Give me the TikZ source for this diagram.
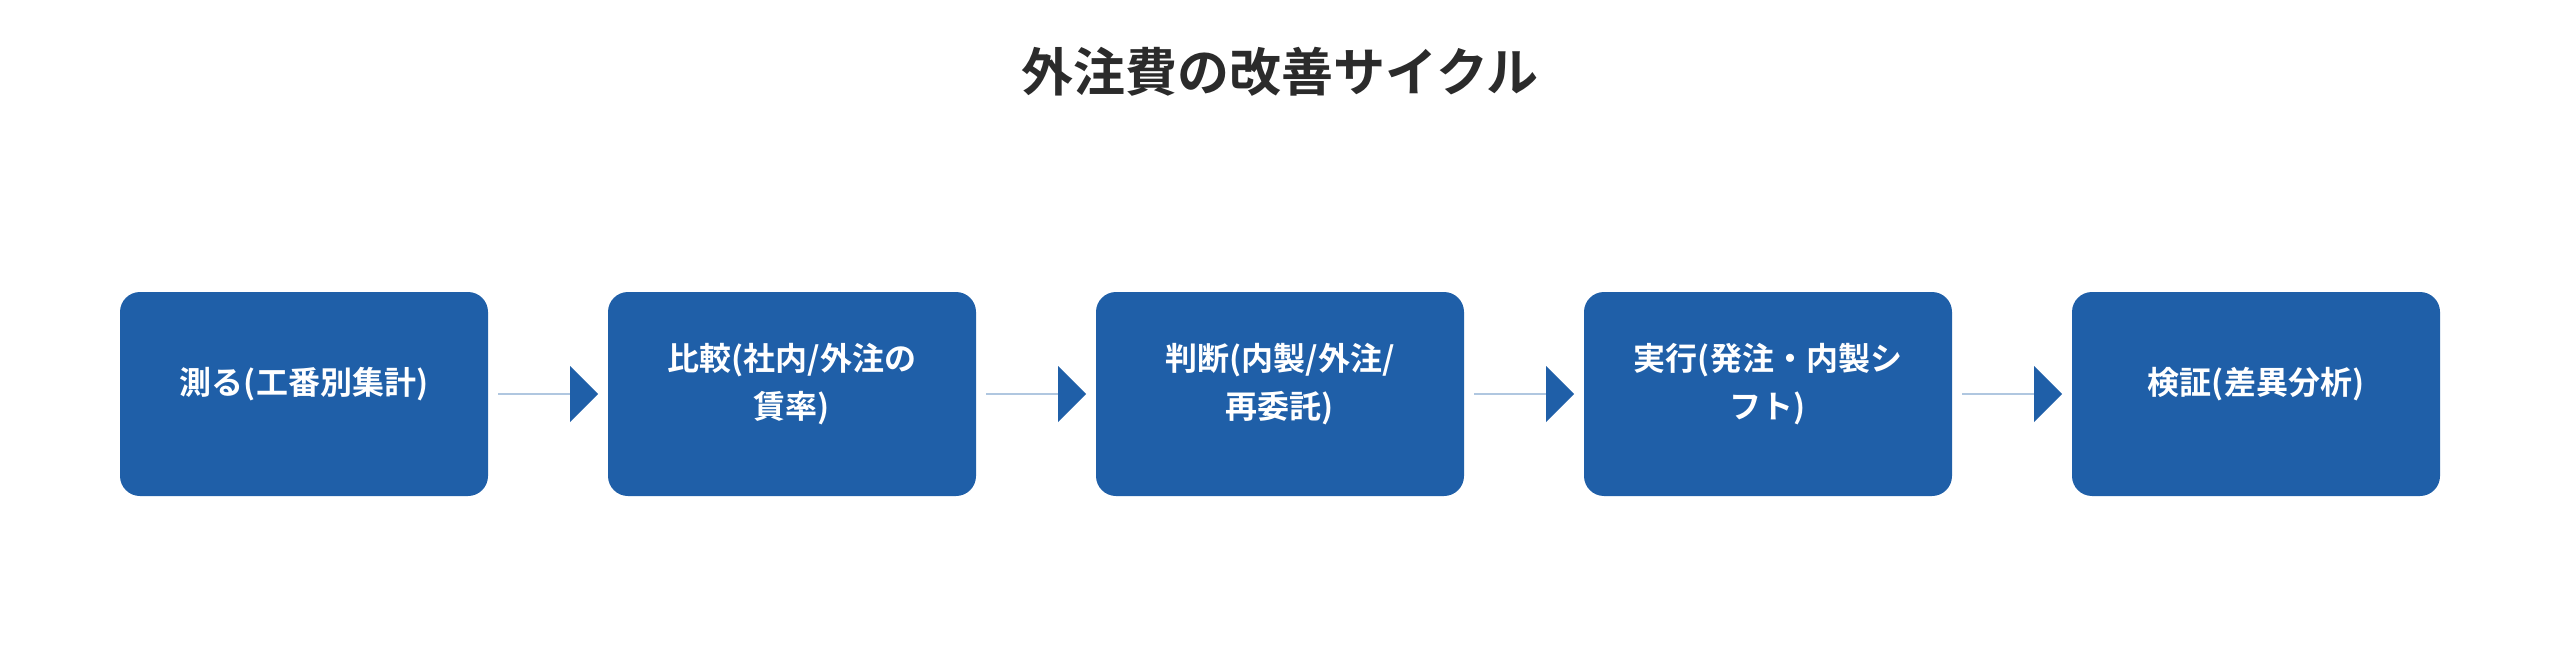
\documentclass[tikz,border=0pt]{standalone}
\usepackage{fontspec}
\setmainfont{Noto Sans CJK JP}[BoldFont={Noto Sans CJK JP Bold}]
\usetikzlibrary{shapes.arrows}
\definecolor{boxblue}{HTML}{1F5FA8}
\definecolor{titlegray}{HTML}{2B2B2B}
\begin{document}
\begin{tikzpicture}[x=1pt,y=-1pt,
  box/.style={fill=boxblue,rounded corners=20pt,minimum width=368pt,minimum height=204pt,draw=none},
  lbl/.style={text=white,font=\fontsize{32}{48}\selectfont\bfseries,align=center},
  arr/.style={single arrow,fill=boxblue,draw=none,minimum height=100pt,single arrow head extend=14pt,minimum width=56pt,inner sep=0pt,single arrow tip angle=90}]
\useasboundingbox (0,0) rectangle (2560,650);
\node[font=\fontsize{52}{60}\selectfont\bfseries,text=titlegray] (title) at (1280,72) {外注費の改善サイクル};
\foreach \i/\x/\t in {1/304/{測る(工番別集計)},2/792/{比較(社内/外注の\\賃率)},3/1280/{判断(内製/外注/\\再委託)},4/1768/{実行(発注・内製シ\\フト)},5/2256/{検証(差異分析)}}{
  \node[box] (b\i) at (\x,394) {};
  \node[lbl] (t\i) at (\x,384) {\t};
}
\foreach \i/\x in {1/548,2/1036,3/1524,4/2012}{
  \node[arr] (a\i) at (\x,394) {};
}
\end{tikzpicture}
\end{document}
